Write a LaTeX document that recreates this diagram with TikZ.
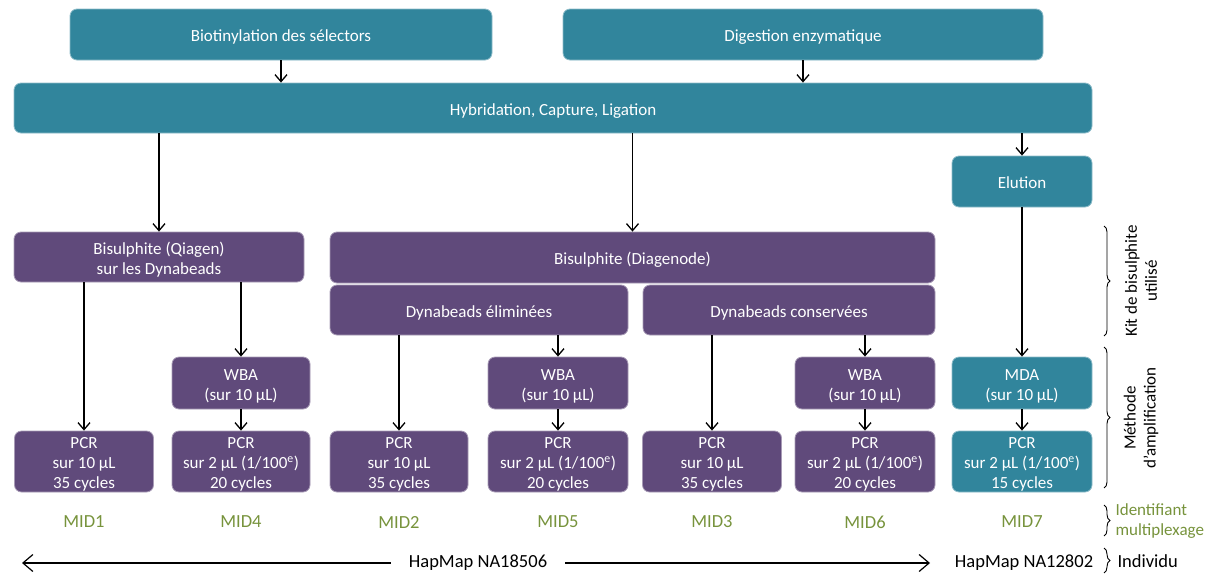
\documentclass[tikz,border=0pt]{standalone}
\usepackage{fontspec}
\setmainfont{Carlito}
\usetikzlibrary{arrows.meta,decorations.pathreplacing}
\definecolor{tealc}{HTML}{31859C}
\definecolor{purc}{HTML}{604A7B}
\definecolor{greenc}{HTML}{77933C}
\begin{document}
\begin{tikzpicture}[x=1pt,y=-1pt,
  every node/.style={font=\fontsize{17}{20}\selectfont},
  boxbase/.style={rounded corners=7pt, text=white, inner sep=0pt, align=center, line width=0.8pt},
  tealbox/.style={boxbase, fill=tealc, draw=tealc!55!white},
  purbox/.style={boxbase, fill=purc, draw=purc!55!white},
  one/.style={text height=14pt, text depth=0pt},
  two/.style={text height=34pt, text depth=0pt},
  three/.style={text height=54pt, text depth=0pt},
  arr/.style={line width=1.3pt, -{Straight Barb[length=7pt,width=12pt]}},
  bigarr/.style={line width=1.2pt, -{Straight Barb[length=10pt,width=17pt]}},
  biglab/.style={font=\fontsize{18.5}{22}\selectfont},
  midlab/.style={biglab, text=greenc},
  brc/.style={line width=0.9pt, decorate, decoration={brace, amplitude=6pt}}
]
\useasboundingbox (0,0) rectangle (1212,573);
% top row
\node[tealbox, one, minimum width=422pt, minimum height=51pt] (bio) at (281,34.5) {Biotinylation des sélectors};
\node[tealbox, one, minimum width=480pt, minimum height=51pt] (dig) at (803,34.5) {Digestion enzymatique};
\node[tealbox, one, minimum width=1078pt, minimum height=50pt] (hyb) at (553,108) {Hybridation, Capture, Ligation};
\node[tealbox, one, minimum width=140pt, minimum height=51pt] (elu) at (1022,181.5) {Elution};
% bisulphite
\node[purbox, two, minimum width=290pt, minimum height=50pt] (qia) at (159,257) {Bisulphite (Qiagen)\\sur les Dynabeads};
\node[purbox, one, minimum width=605pt, minimum height=51pt] (dia) at (632.5,257.5) {Bisulphite (Diagenode)};
\node[purbox, one, minimum width=298pt, minimum height=50pt] (elim) at (479,310) {Dynabeads éliminées};
\node[purbox, one, minimum width=292pt, minimum height=50pt] (cons) at (789,310) {Dynabeads conservées};
% amplification
\node[purbox, two, minimum width=138pt, minimum height=52pt] (wba1) at (241,383) {WBA\\(sur 10 µL)};
\node[purbox, two, minimum width=140pt, minimum height=52pt] (wba2) at (558,383) {WBA\\(sur 10 µL)};
\node[purbox, two, minimum width=140pt, minimum height=52pt] (wba3) at (865,383) {WBA\\(sur 10 µL)};
\node[tealbox, two, minimum width=140pt, minimum height=52pt] (mda) at (1022,383) {MDA\\(sur 10 µL)};
% PCR
\node[purbox, three, minimum width=139pt, minimum height=61pt] (pcr1) at (84,461.5) {PCR\\sur 10 µL\\35 cycles};
\node[purbox, three, minimum width=138pt, minimum height=61pt] (pcr4) at (241,461.5) {PCR\\sur 2 µL (1/100\textsuperscript{e})\\20 cycles};
\node[purbox, three, minimum width=138pt, minimum height=61pt] (pcr2) at (399,461.5) {PCR\\sur 10 µL\\35 cycles};
\node[purbox, three, minimum width=140pt, minimum height=61pt] (pcr5) at (558,461.5) {PCR\\sur 2 µL (1/100\textsuperscript{e})\\20 cycles};
\node[purbox, three, minimum width=139pt, minimum height=61pt] (pcr3) at (712,461.5) {PCR\\sur 10 µL\\35 cycles};
\node[purbox, three, minimum width=140pt, minimum height=61pt] (pcr6) at (865,461.5) {PCR\\sur 2 µL (1/100\textsuperscript{e})\\20 cycles};
\node[tealbox, three, minimum width=140pt, minimum height=61pt] (pcr7) at (1022,461.5) {PCR\\sur 2 µL (1/100\textsuperscript{e})\\15 cycles};
% MID labels
\node[midlab] (mid1) at (84,522) {MID1};
\node[midlab] (mid4) at (241,522) {MID4};
\node[midlab] (mid2) at (399,522) {MID2};
\node[midlab] (mid5) at (558,522) {MID5};
\node[midlab] (mid3) at (712,522) {MID3};
\node[midlab] (mid6) at (865,522) {MID6};
\node[midlab] (mid7) at (1022,522) {MID7};
% arrows
\draw[arr] (bio.south) -- (bio.south |- hyb.north);
\draw[arr] (dig.south) -- (dig.south |- hyb.north);
\draw[arr] (hyb.south -| qia.north) -- (qia.north);
\draw[arr] (hyb.south -| dia.north) -- (dia.north);
\draw[arr] (hyb.south -| elu.north) -- (elu.north);
\draw[arr] (qia.south -| pcr1.north) -- (pcr1.north);
\draw[arr] (qia.south -| wba1.north) -- (wba1.north);
\draw[arr] (wba1.south) -- (pcr4.north);
\draw[arr] (elim.south -| pcr2.north) -- (pcr2.north);
\draw[arr] (elim.south -| wba2.north) -- (wba2.north);
\draw[arr] (wba2.south) -- (pcr5.north);
\draw[arr] (cons.south -| pcr3.north) -- (pcr3.north);
\draw[arr] (cons.south -| wba3.north) -- (wba3.north);
\draw[arr] (wba3.south) -- (pcr6.north);
\draw[arr] (elu.south) -- (mda.north);
\draw[arr] (mda.south) -- (pcr7.north);
% bottom
\node[biglab, inner xsep=18pt] (hm1) at (478,563) {HapMap NA18506};
\coordinate (hmL) at (22,563);
\coordinate (hmR) at (930,563);
\draw[bigarr] (hm1.west) -- (hmL);
\draw[bigarr] (hm1.east) -- (hmR);
\node[biglab] (hm2) at (1024,563) {HapMap NA12802};
% braces and side labels
\draw[brc] (1104,226) -- (1104,336);
\draw[brc] (1104,347) -- (1104,488);
\draw[brc] (1104,505) -- (1104,536);
\draw[brc] (1104,548) -- (1104,573);
\node[rotate=90, align=center] (kit) at (1141,281) {Kit de bisulphite\\utilisé};
\node[rotate=90, align=center] (meth) at (1141,418) {Méthode\\d’amplification};
\node[anchor=west, align=left, text=greenc] (ident) at (1112,521) {Identifiant\\multiplexage};
\node[anchor=west, biglab] (indiv) at (1114,561) {Individu};
\end{tikzpicture}
\end{document}
